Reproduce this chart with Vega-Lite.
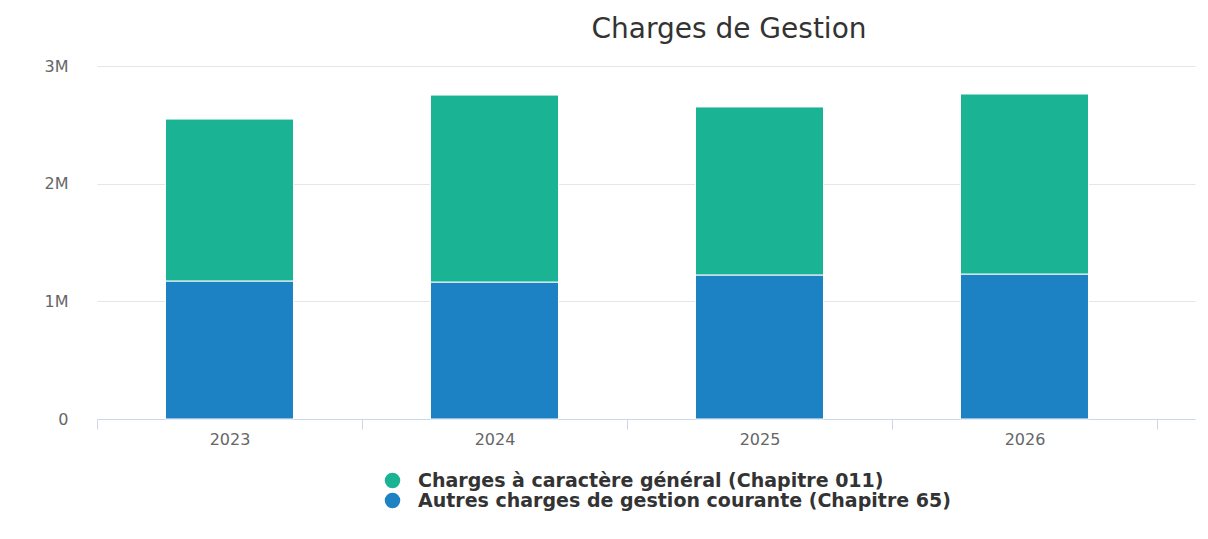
{
  "$schema": "https://vega.github.io/schema/vega-lite/v6.json",
  "autosize": "none",
  "width": 1098,
  "height": 353,
  "padding": {"left": 97, "top": 66, "right": 13, "bottom": 120},
  "background": "white",
  "config": {
    "font": "DejaVu Sans",
    "view": {"stroke": null}
  },
  "title": {
    "text": "Charges de Gestion",
    "fontSize": 28,
    "fontWeight": "normal",
    "color": "#333333",
    "anchor": "middle",
    "dx": 83,
    "offset": 14
  },
  "data": {
    "values": [
      {"annee": "2023", "categorie": "Autres charges de gestion courante (Chapitre 65)", "montant": 1173000, "ordre": 1},
      {"annee": "2023", "categorie": "Charges à caractère général (Chapitre 011)", "montant": 1376000, "ordre": 2},
      {"annee": "2024", "categorie": "Autres charges de gestion courante (Chapitre 65)", "montant": 1164000, "ordre": 1},
      {"annee": "2024", "categorie": "Charges à caractère général (Chapitre 011)", "montant": 1589000, "ordre": 2},
      {"annee": "2025", "categorie": "Autres charges de gestion courante (Chapitre 65)", "montant": 1224000, "ordre": 1},
      {"annee": "2025", "categorie": "Charges à caractère général (Chapitre 011)", "montant": 1428000, "ordre": 2},
      {"annee": "2026", "categorie": "Autres charges de gestion courante (Chapitre 65)", "montant": 1232000, "ordre": 1},
      {"annee": "2026", "categorie": "Charges à caractère général (Chapitre 011)", "montant": 1530000, "ordre": 2}
    ]
  },
  "mark": {"type": "bar", "width": {"band": 0.483}, "stroke": "white", "strokeWidth": 1},
  "encoding": {
    "x": {
      "field": "annee",
      "type": "nominal",
      "scale": {"paddingInner": 0, "paddingOuter": 0.0717, "align": 0},
      "axis": {
        "title": null,
        "labelAngle": 0,
        "labelFontSize": 16,
        "labelColor": "#666666",
        "labelPadding": 2,
        "domainColor": "#ccd6eb",
        "tickColor": "#ccd6eb",
        "tickSize": 10,
        "tickBand": "extent",
        "grid": false
      }
    },
    "y": {
      "field": "montant",
      "type": "quantitative",
      "aggregate": "sum",
      "stack": "zero",
      "scale": {"domain": [0, 3000000], "nice": false},
      "axis": {
        "title": null,
        "values": [0, 1000000, 2000000, 3000000],
        "format": "~s",
        "labelExpr": "datum.value == 0 ? '0' : datum.label",
        "labelFontSize": 16,
        "labelColor": "#666666",
        "labelPadding": 29,
        "domain": false,
        "ticks": false,
        "gridColor": "#e6e6e6",
        "gridWidth": 1
      }
    },
    "color": {
      "field": "categorie",
      "type": "nominal",
      "scale": {
        "domain": ["Charges à caractère général (Chapitre 011)", "Autres charges de gestion courante (Chapitre 65)"],
        "range": ["#1ab394", "#1d82c4"]
      },
      "legend": {
        "title": null,
        "orient": "none",
        "legendX": 286,
        "legendY": 405,
        "direction": "vertical",
        "symbolType": "circle",
        "symbolSize": 240,
        "symbolStrokeWidth": 0,
        "labelFontSize": 19,
        "labelFontWeight": "bold",
        "labelColor": "#333333",
        "labelLimit": 900,
        "rowPadding": -4,
        "labelOffset": 16
      }
    },
    "order": {"field": "ordre", "type": "quantitative", "sort": "ascending"}
  }
}
